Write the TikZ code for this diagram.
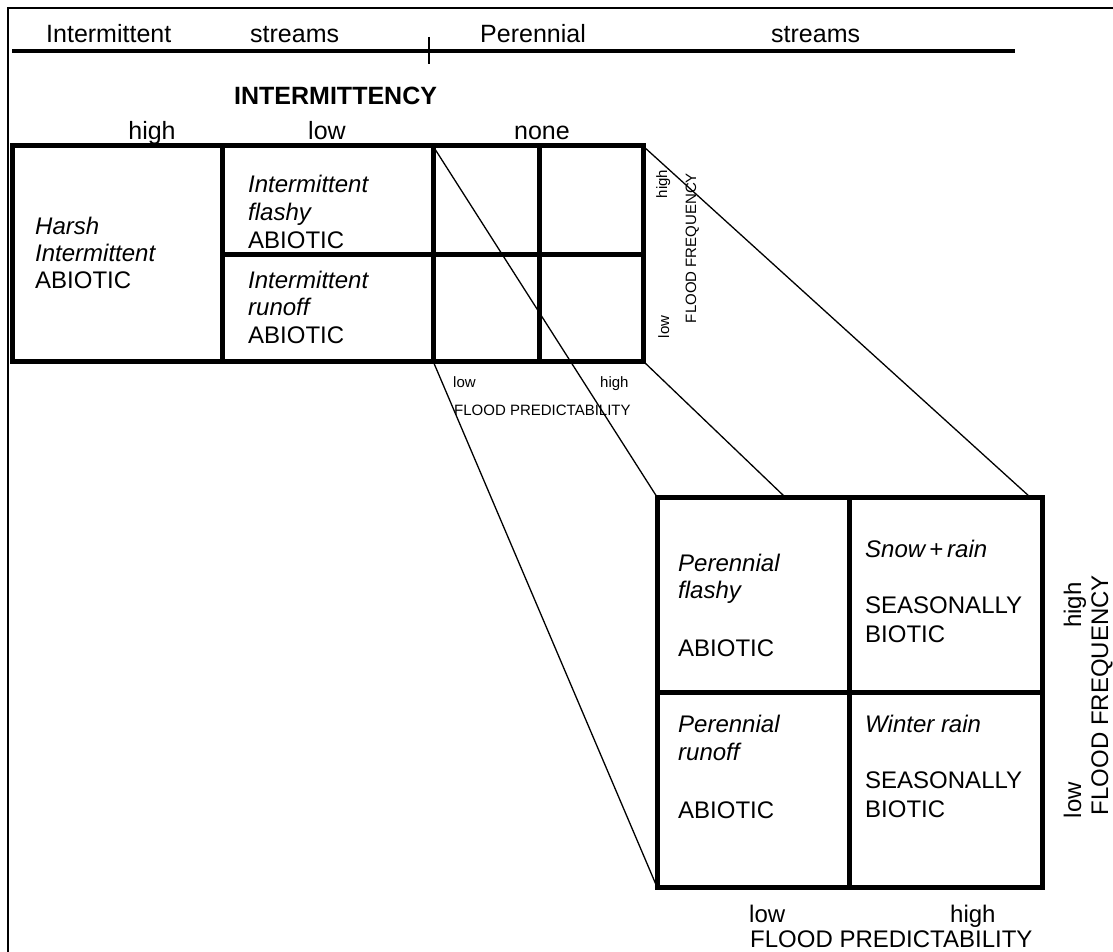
\documentclass[tikz,border=0pt]{standalone}
\usepackage{fontspec}
\setmainfont{Liberation Sans}
\begin{document}
\begin{tikzpicture}[x=1pt,y=-1pt,
  txt/.style={inner sep=0pt, anchor=base west, font=\fontsize{24}{28}\selectfont},
  itx/.style={inner sep=0pt, anchor=base west, font=\fontsize{24}{28}\selectfont\itshape},
  hdr/.style={inner sep=0pt, anchor=base west, font=\fontsize{25}{30}\selectfont},
  sml/.style={inner sep=0pt, anchor=base west, font=\fontsize{15}{18}\selectfont},
  gridline/.style={line width=5pt},
  link/.style={line width=1.3pt},
]
\useasboundingbox (0,0) rectangle (1113,952);
% outer frame (runs off the right and bottom)
\begin{scope}
  \clip (0,0) rectangle (1113,952);
  \draw[line width=2pt] (8,980) -- (8,8) -- (1140,8);
\end{scope}

% stream-type heading
\draw[line width=3.5pt] (12,51) -- (1015,51);
\draw[line width=1.5pt] (429,37) -- (429,64);
\node[hdr] (hInt)  at (46,43)  {Intermittent};
\node[hdr] (hStr1) at (250,43) {streams};
\node[hdr] (hPer)  at (480,43) {Perennial};
\node[hdr] (hStr2) at (771,43) {streams};
\node[hdr, font=\fontsize{25}{30}\selectfont\bfseries] (hIntm) at (234,105) {INTERMITTENCY};
\node[hdr, anchor=base] (hHigh) at (152,140) {high};
\node[hdr, anchor=base] (hLow)  at (327,140) {low};
\node[hdr, anchor=base] (hNone) at (542,140) {none};

% corner points used by the zoom lines
\coordinate (sTL) at (433,146);
\coordinate (sTR) at (643,146);
\coordinate (sBR) at (643,361);
\coordinate (sBL) at (433,361);
\coordinate (bTL) at (657,497);
\coordinate (bTR) at (1030,497);
\coordinate (bTM) at (785,497);
\coordinate (bBL) at (657,887);

% zoom lines
\draw[link] (sTL) -- (bTL);
\draw[link] (sTR) -- (bTR);
\draw[link] (sBR) -- (bTM);
\draw[link] (sBL) -- (bBL);

% small classification grid
\draw[gridline] (12,146) rectangle (643,361);
\draw[gridline] (222,146) -- (222,361);
\draw[gridline] (433,146) -- (433,361);
\draw[gridline] (539,146) -- (539,361);
\draw[gridline] (222,254) -- (643,254);

\node[itx] (c1a) at (35,234) {Harsh};
\node[itx] (c1b) at (35,261) {Intermittent};
\node[txt] (c1c) at (35,288) {ABIOTIC};
\node[itx] (c2a) at (248,193) {Intermittent};
\node[itx] (c2b) at (248,220) {flashy};
\node[txt] (c2c) at (248,248) {ABIOTIC};
\node[itx] (c3a) at (248,288) {Intermittent};
\node[itx] (c3b) at (248,315) {runoff};
\node[txt] (c3c) at (248,343) {ABIOTIC};

% small grid axes
\node[sml, rotate=90, anchor=base] (sFh) at (667,184) {high};
\node[sml, rotate=90, anchor=base] (sFl) at (669,327) {low};
\node[sml, rotate=90, anchor=base] (sFF) at (696,248) {FLOOD FREQUENCY};
\node[sml] (sPl) at (453,387) {low};
\node[sml] (sPh) at (600,387) {high};
\node[sml] (sPP) at (454,415) {FLOOD PREDICTABILITY};

% enlarged perennial grid
\draw[gridline] (657,497) rectangle (1042,887);
\draw[gridline] (849,497) -- (849,887);
\draw[gridline] (657,692) -- (1042,692);

\node[itx] (p1a) at (678,571) {Perennial};
\node[itx] (p1b) at (678,598) {flashy};
\node[txt] (p1c) at (678,656) {ABIOTIC};
\node[itx] (p2a) at (865,557) {Snow\,+\,rain};
\node[txt] (p2b) at (865,613) {SEASONALLY};
\node[txt] (p2c) at (865,642) {BIOTIC};
\node[itx] (p3a) at (678,732) {Perennial};
\node[itx] (p3b) at (678,760) {runoff};
\node[txt] (p3c) at (678,818) {ABIOTIC};
\node[itx] (p4a) at (865,732) {Winter rain};
\node[txt] (p4b) at (865,788) {SEASONALLY};
\node[txt] (p4c) at (865,817) {BIOTIC};

% enlarged grid axes
\node[txt, rotate=90, anchor=base] (bFh) at (1081,605) {high};
\node[txt, rotate=90, anchor=base] (bFl) at (1081,800) {low};
\node[txt, rotate=90, anchor=base] (bFF) at (1108,695) {FLOOD FREQUENCY};
\node[txt] (bPl) at (749,922) {low};
\node[txt] (bPh) at (950,922) {high};
\node[txt] (bPP) at (750,947) {FLOOD PREDICTABILITY};
\end{tikzpicture}
\end{document}
